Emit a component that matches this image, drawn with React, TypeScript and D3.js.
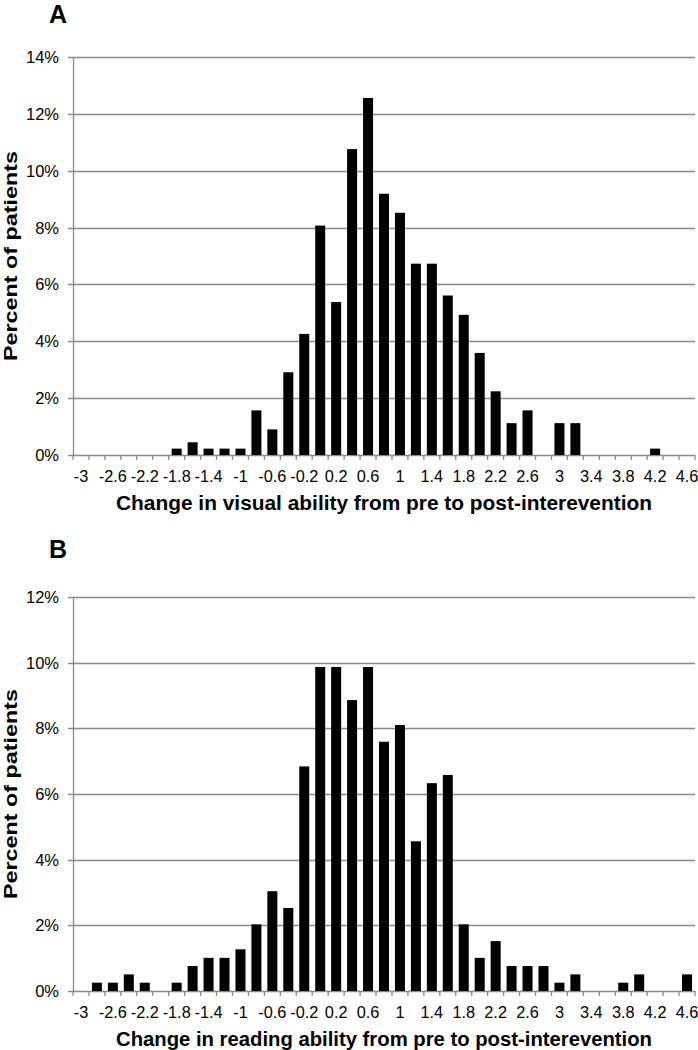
import React from "react";
import * as d3 from "d3";

const categories: string[] = [
  "-3", "-2.8", "-2.6", "-2.4", "-2.2", "-2", "-1.8", "-1.6", "-1.4", "-1.2",
  "-1", "-0.8", "-0.6", "-0.4", "-0.2", "0", "0.2", "0.4", "0.6", "0.8",
  "1", "1.2", "1.4", "1.6", "1.8", "2", "2.2", "2.4", "2.6", "2.8",
  "3", "3.2", "3.4", "3.6", "3.8", "4", "4.2", "4.4", "4.6",
];

// Panel A: change in visual ability (% of patients)
const visualValues: number[] = [
  0, 0, 0, 0, 0, 0, 0.224, 0.448, 0.224, 0.224,
  0.224, 1.57, 0.9, 2.91, 4.26, 8.07, 5.38, 10.76, 12.56, 9.19,
  8.52, 6.73, 6.73, 5.61, 4.93, 3.59, 2.24, 1.12, 1.57, 0,
  1.12, 1.12, 0, 0, 0, 0, 0.224, 0, 0,
];

// Panel B: change in reading ability (% of patients)
const readingValues: number[] = [
  0, 0.253, 0.253, 0.506, 0.253, 0, 0.253, 0.76, 1.01, 1.01,
  1.27, 2.03, 3.04, 2.53, 6.84, 9.87, 9.87, 8.86, 9.87, 7.59,
  8.1, 4.56, 6.33, 6.58, 2.03, 1.01, 1.52, 0.76, 0.76, 0.76,
  0.253, 0.506, 0, 0, 0.253, 0.506, 0, 0, 0.506,
];

const visualTicks: number[] = [0, 2, 4, 6, 8, 10, 12, 14];
const readingTicks: number[] = [0, 2, 4, 6, 8, 10, 12];

const FONT = "'Liberation Sans', Arial, Helvetica, sans-serif";
const GRID = "#8a8a8a";

type PanelProps = {
  letter: string;
  letterY: number;
  values: number[];
  ticks: number[];
  top: number;
  bottom: number;
  title: string;
};

function Panel({ letter, letterY, values, ticks, top, bottom, title }: PanelProps) {
  const left = 73;
  const right = 695;
  const pad = 0.373;
  const x = d3
    .scaleBand<string>()
    .domain(categories)
    .range([left, right])
    .paddingInner(pad)
    .paddingOuter(pad / 2);
  const yMax = ticks[ticks.length - 1];
  const y = d3.scaleLinear().domain([0, yMax]).range([bottom, top]);
  const step = x.step();
  const off = (step - x.bandwidth()) / 2;
  const boundaries = categories.map((c) => (x(c) as number) - off);
  boundaries.push(right);

  return (
    <g>
      <text
        x={58}
        y={letterY}
        textAnchor="middle"
        fontFamily={FONT}
        fontWeight="bold"
        fontSize={25}
        fill="#000"
      >
        {letter}
      </text>
      {ticks.map((t) => (
        <g key={"g" + t}>
          <line
            x1={left - 5}
            x2={right}
            y1={Math.round(y(t)) + 0.5}
            y2={Math.round(y(t)) + 0.5}
            stroke={GRID}
            strokeWidth={1.3}
          />
          <text
            x={59}
            y={y(t) + 6}
            textAnchor="end"
            fontFamily={FONT}
            fontSize={16.5}
            fill="#000"
          >
            {t + "%"}
          </text>
        </g>
      ))}
      <line x1={left + 0.5} x2={left + 0.5} y1={top} y2={bottom} stroke={GRID} strokeWidth={1.3} />
      {values.map((v, i) =>
        v > 0 ? (
          <rect
            key={"b" + i}
            x={x(categories[i]) as number}
            width={x.bandwidth()}
            y={y(v)}
            height={bottom - y(v)}
            fill="#000"
          />
        ) : null
      )}
      {boundaries.map((b, i) => (
        <line
          key={"t" + i}
          x1={b}
          x2={b}
          y1={bottom}
          y2={bottom + 5}
          stroke={GRID}
          strokeWidth={1.3}
        />
      ))}
      {categories.map((c, i) =>
        i % 2 === 0 ? (
          <text
            key={"l" + i}
            x={(x(c) as number) + x.bandwidth() / 2}
            y={bottom + 27}
            textAnchor="middle"
            fontFamily={FONT}
            fontSize={16.3}
            fill="#000"
          >
            {c}
          </text>
        ) : null
      )}
      <text
        x={(left + right) / 2}
        y={bottom + 55}
        textAnchor="middle"
        fontFamily={FONT}
        fontWeight="bold"
        fontSize={20}
        textLength={536}
        lengthAdjust="spacingAndGlyphs"
        fill="#000"
      >
        {title}
      </text>
      <text
        transform={`translate(16.5,${(top + bottom) / 2}) rotate(-90)`}
        textAnchor="middle"
        fontFamily={FONT}
        fontWeight="bold"
        fontSize={18}
        textLength={210}
        lengthAdjust="spacingAndGlyphs"
        fill="#000"
      >
        Percent of patients
      </text>
    </g>
  );
}

export default function App() {
  return (
    <svg
      width={698}
      height={1050}
      style={{ position: "absolute", left: 0, top: 0, background: "#fff" }}
    >
      <rect x={0} y={0} width={698} height={1050} fill="#fff" />
      <Panel
        letter="A"
        letterY={23}
        values={visualValues}
        ticks={visualTicks}
        top={57}
        bottom={455}
        title="Change in visual ability from pre to post-interevention"
      />
      <Panel
        letter="B"
        letterY={558}
        values={readingValues}
        ticks={readingTicks}
        top={597}
        bottom={991}
        title="Change in reading ability from pre to post-interevention"
      />
    </svg>
  );
}
